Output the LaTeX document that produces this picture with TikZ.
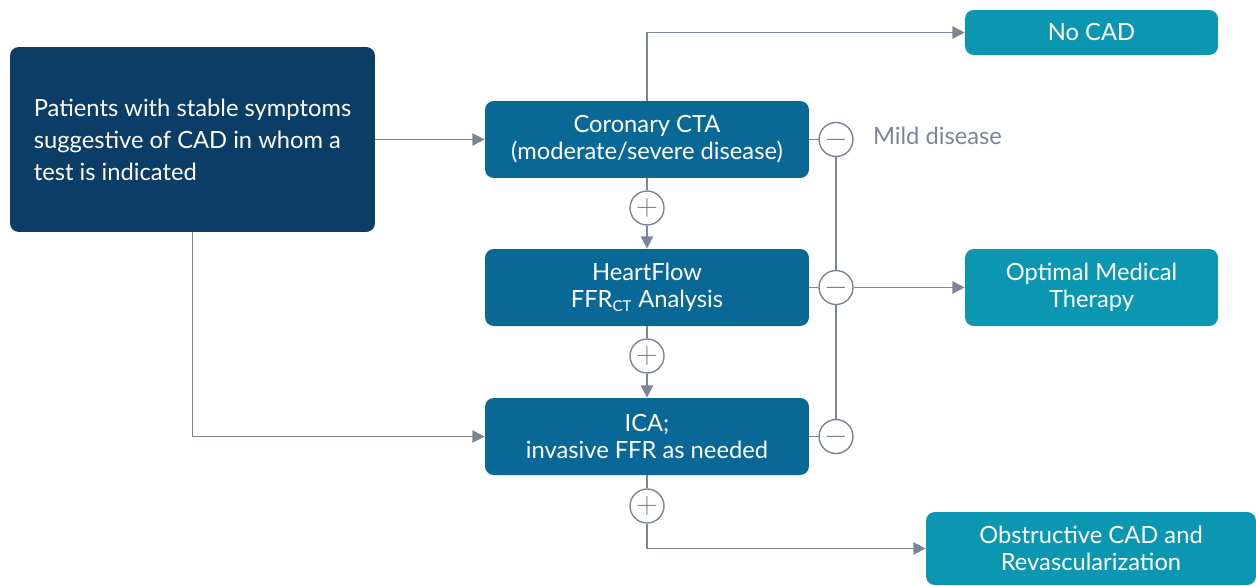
\documentclass[tikz,border=0pt]{standalone}
\usepackage{fontspec}
\setmainfont{Lato}
\usepackage{xcolor}
\usepackage{tikz}
\usetikzlibrary{positioning,arrows.meta,shapes}

\definecolor{navy}{HTML}{0B3D66}
\definecolor{midblue}{HTML}{0A6896}
\definecolor{teal}{HTML}{0B97B2}
\definecolor{linegray}{HTML}{7B8594}

\begin{document}
\begin{tikzpicture}[
  x=0.02cm, y=-0.02cm,
  block/.style={rectangle, rounded corners=5pt, fill=midblue, text=white, minimum width=6.48cm, minimum height=1.54cm, align=center, font=\fontsize{13.5}{15.5}\selectfont},
  outcome/.style={block, fill=teal, minimum width=5.06cm},
  sign/.style={circle, draw=linegray, fill=white, line width=0.8pt, minimum size=0.68cm, inner sep=0pt, text=linegray, font=\fontsize{17}{17}\selectfont},
  link/.style={draw=linegray, line width=0.8pt},
  arrow/.style={link, -{Triangle[length=7pt,width=7pt]}}
]
\useasboundingbox (0,0) rectangle (1256,585);

% Start
\node[block, fill=navy, minimum width=7.3cm, minimum height=3.7cm, align=left, font=\fontsize{13.5}{18.2}\selectfont] (patients) at (192.5,139.5)
  {Patients with stable symptoms\\suggestive of CAD in whom a\\test is indicated};

% Middle column
\node[block] (cta) at (647,139.5) {Coronary CTA\\(moderate/severe disease)};
\node[block] (ffr) at (647,287.5) {HeartFlow\\FFR\textsubscript{\fontsize{8.5}{8.5}\selectfont CT} Analysis};
\node[block] (ica) at (647,436.5) {ICA;\\invasive FFR as needed};

% Outcomes
\node[outcome, minimum height=0.9cm] (nocad) at (1091.5,32.5) {No CAD};
\node[outcome] (omt) at (1091.5,287.5) {Optimal Medical\\Therapy};
\node[outcome, minimum width=6.6cm, minimum height=1.46cm] (obs) at (1091,548.5) {Obstructive CAD and\\Revascularization};

% Plus / minus
\node[sign] (plusA) at (647,208) {$+$};
\node[sign] (plusB) at (647,356) {$+$};
\node[sign] (plusC) at (647,506) {$+$};
\node[sign] (minusA) at (836,139.5) {$-$};
\node[sign] (minusB) at (836,287.5) {$-$};
\node[sign] (minusC) at (836,436.5) {$-$};
\node[right=0.38cm of minusA, yshift=0.07cm, inner sep=0pt, text=linegray, font=\fontsize{13.5}{15.5}\selectfont] (mild) {Mild disease};

% Arrows
\draw[arrow] (patients) -- (cta);
\draw[arrow] (patients.south) |- (ica);
\draw[arrow] (cta.north) |- (nocad);
\draw[link] (cta) -- (plusA);
\draw[arrow] (plusA) -- (ffr);
\draw[link] (ffr) -- (plusB);
\draw[arrow] (plusB) -- (ica);
\draw[link] (ica) -- (plusC);
\draw[arrow] (plusC) |- (obs);
\draw[link] (cta) -- (minusA);
\draw[link] (ffr) -- (minusB);
\draw[link] (ica) -- (minusC);
\draw[link] (minusA) -- (minusB);
\draw[link] (minusB) -- (minusC);
\draw[arrow] (minusB) -- (omt);

\end{tikzpicture}
\end{document}
